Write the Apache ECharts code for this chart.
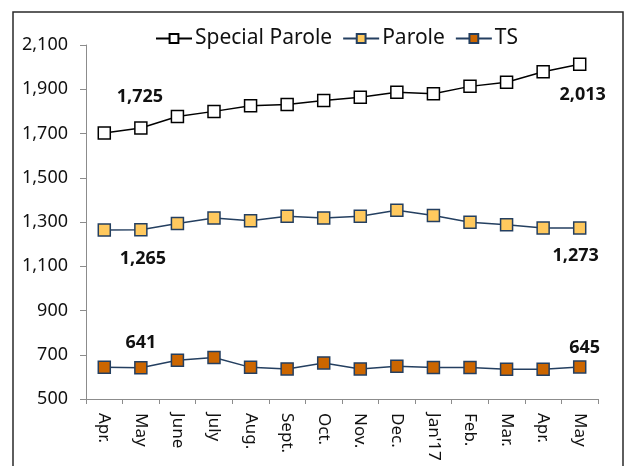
<!DOCTYPE html>
<html>
<head>
<meta charset="utf-8">
<script src="https://cdn.jsdelivr.net/npm/echarts@6/dist/echarts.min.js"></script>
<style>
html,body{margin:0;padding:0;background:#fff;}
#chart{width:626px;height:466px;}
</style>
</head>
<body>
<div id="chart"></div>
<script>
const categories = ["Apr.","May","June","July","Aug.","Sept.","Oct.","Nov.","Dec.","Jan'17","Feb.","Mar.","Apr.","May"];
const specialParole = [1702,1725,1777,1800,1825,1831,1849,1864,1886,1880,1913,1932,1979,2013];
const parole = [1264,1265,1293,1318,1306,1326,1318,1326,1353,1329,1299,1288,1273,1273];
const ts = [643,641,675,688,643,636,663,636,648,642,642,634,634,645];
const yTicks = [500,700,900,1100,1300,1500,1700,1900,2100];

const FONT = "Noto Sans";
const NAVY = "#243F60";

function withLabels(values, offsets) {
  return values.map((v, i) => {
    if (offsets[i]) {
      return {
        value: v,
        label: {
          show: true,
          position: 'inside',
          offset: offsets[i],
          formatter: (p) => p.value.toLocaleString('en-US'),
          fontFamily: FONT,
          fontWeight: 'bold',
          fontSize: 18,
          color: '#111'
        }
      };
    }
    return v;
  });
}

const chart = echarts.init(document.getElementById('chart'), null, {renderer: 'canvas'});
chart.setOption({
  animation: false,
  backgroundColor: '#fff',
  graphic: [{
    type: 'rect',
    shape: {x: 13, y: 12, width: 610, height: 500},
    style: {fill: 'none', stroke: '#2a2a2a', lineWidth: 1.5},
    silent: true
  }],
  legend: {
    top: 23,
    left: 150,
    itemWidth: 36,
    itemHeight: 11,
    itemGap: 10,
    textStyle: {fontFamily: FONT, fontSize: 21, color: '#111', padding: [0,0,0,-2]},
    data: ['Special Parole', 'Parole', 'TS']
  },
  grid: {left: 86, right: 28, top: 45, bottom: 67, containLabel: false},
  xAxis: {
    type: 'category',
    data: categories,
    boundaryGap: true,
    axisLine: {lineStyle: {color: '#8c8c8c', width: 1}},
    axisTick: {show: true, alignWithLabel: false, length: 5, lineStyle: {color: '#8c8c8c'}},
    axisLabel: {rotate: -90, margin: 14, fontFamily: FONT, fontSize: 17, color: '#111', interval: 0}
  },
  yAxis: {
    type: 'value',
    min: yTicks[0],
    max: yTicks[yTicks.length - 1],
    interval: 200,
    splitLine: {show: false},
    axisLine: {show: true, lineStyle: {color: '#8c8c8c', width: 1}},
    axisTick: {show: true, length: 6, lineStyle: {color: '#8c8c8c'}},
    axisLabel: {margin: 18, fontFamily: FONT, fontSize: 18, color: '#111',
      formatter: (v) => v.toLocaleString('en-US')}
  },
  series: [
    {
      name: 'Special Parole',
      type: 'line',
      data: withLabels(specialParole, {1: [-1, -31], 13: [3, 31]}),
      symbol: 'rect',
      symbolSize: 12,
      lineStyle: {color: '#000', width: 1.5},
      itemStyle: {color: '#fff', borderColor: '#000', borderWidth: 1.5}
    },
    {
      name: 'Parole',
      type: 'line',
      data: withLabels(parole, {1: [2, 29], 13: [-4, 28]}),
      symbol: 'rect',
      symbolSize: 12,
      lineStyle: {color: NAVY, width: 1.5},
      itemStyle: {color: '#FFC95E', borderColor: NAVY, borderWidth: 1.5}
    },
    {
      name: 'TS',
      type: 'line',
      data: withLabels(ts, {1: [0, -25], 13: [5, -19]}),
      symbol: 'rect',
      symbolSize: 12,
      lineStyle: {color: NAVY, width: 1.5},
      itemStyle: {color: '#CC6600', borderColor: NAVY, borderWidth: 1.5}
    }
  ]
});
</script>
</body>
</html>
